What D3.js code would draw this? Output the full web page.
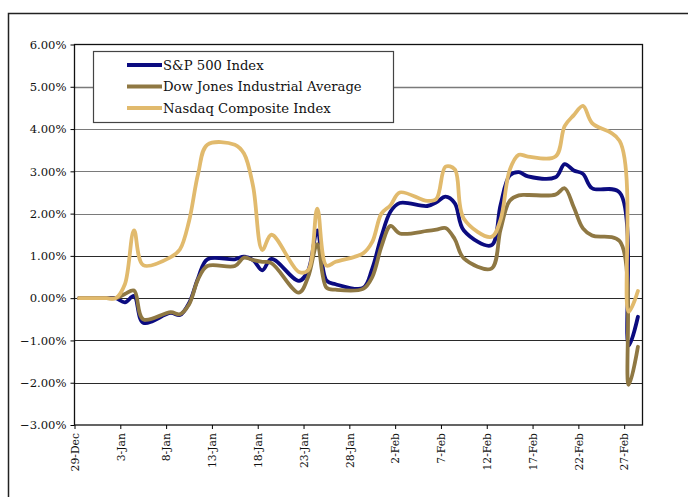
<!DOCTYPE html>
<html>
<head>
<meta charset="utf-8">
<script src="https://cdn.jsdelivr.net/npm/d3@7"></script>
<style>
  html, body { margin: 0; padding: 0; background: #fff; }
  svg { display: block; }
  .axis text { font-family: "DejaVu Serif", serif; fill: #111; }
</style>
</head>
<body>
<div id="chart"></div>
<script>
// trading days (weekdays, holidays carry the previous value)
var dates = ["2006-12-29","2007-01-01","2007-01-02","2007-01-03","2007-01-04","2007-01-05",
  "2007-01-08","2007-01-09","2007-01-10","2007-01-11","2007-01-12","2007-01-15","2007-01-16",
  "2007-01-17","2007-01-18","2007-01-19","2007-01-22","2007-01-23","2007-01-24","2007-01-25",
  "2007-01-26","2007-01-29","2007-01-30","2007-01-31","2007-02-01","2007-02-02","2007-02-05",
  "2007-02-06","2007-02-07","2007-02-08","2007-02-09","2007-02-12","2007-02-13","2007-02-14",
  "2007-02-15","2007-02-16","2007-02-19","2007-02-20","2007-02-21","2007-02-22","2007-02-23",
  "2007-02-26","2007-02-27","2007-02-28"];

var sp500 = [0, 0, 0, -0.1, 0.05, -0.58,
  -0.35, -0.4, -0.12, 0.48, 0.92, 0.92, 0.98,
  0.9, 0.66, 0.93, 0.41, 0.65, 1.6, 0.42,
  0.33, 0.24, 0.7, 1.46, 2.05, 2.25, 2.18,
  2.27, 2.4, 2.25, 1.6, 1.25, 2.2, 2.9,
  2.98, 2.88, 2.86, 3.17, 3.02, 2.94, 2.6,
  2.5, -1.12, -0.44];

var dow = [0, 0, 0, 0.1, 0.18, -0.5,
  -0.33, -0.38, -0.15, 0.45, 0.76, 0.76, 0.96,
  0.9, 0.86, 0.83, 0.13, 0.5, 1.28, 0.25,
  0.2, 0.22, 0.5, 1.22, 1.71, 1.53, 1.59,
  1.62, 1.66, 1.4, 0.94, 0.7, 1.62, 2.3,
  2.43, 2.44, 2.45, 2.6, 2.15, 1.65, 1.48,
  1.35, -2.05, -1.15];

var nasdaq = [0, 0, 0, 0.33, 1.6, 0.78,
  0.97, 1.15, 1.82, 2.95, 3.63, 3.63, 3.42,
  2.64, 1.14, 1.5, 0.62, 0.66, 2.12, 0.77,
  0.86, 1.06, 1.33, 2.0, 2.2, 2.5, 2.3,
  2.35, 3.11, 3.05, 1.88, 1.45, 1.85, 3.03,
  3.39, 3.35, 3.35, 4.07, 4.33, 4.55, 4.14,
  3.72, -0.32, 0.17];

var seriesNames = ["S&P 500 Index", "Dow Jones Industrial Average", "Nasdaq Composite Index"];
var seriesColors = ["#0b0b80", "#8f7843", "#e1ba6d"];
var yTicks = [-3, -2, -1, 0, 1, 2, 3, 4, 5, 6];
var xTickLabels = ["29-Dec","3-Jan","8-Jan","13-Jan","18-Jan","23-Jan","28-Jan",
  "2-Feb","7-Feb","12-Feb","17-Feb","22-Feb","27-Feb"];

var W = 688, H = 497;
var plotL = 74.5, plotR = 642.5, plotT = 44.5, plotB = 425;

var parse = d3.timeParse("%Y-%m-%d");
var days = dates.map(parse);
var start = parse("2006-12-29"), end = parse("2007-03-01");

var svg = d3.select("#chart").append("svg").attr("width", W).attr("height", H);

// outer frame
svg.append("rect").attr("x", 8.5).attr("y", 13.5).attr("width", 720).attr("height", 520)
  .attr("fill", "none").attr("stroke", "#222").attr("stroke-width", 1.5);

var x = d3.scaleTime().domain([start, end]).range([plotL, plotR]);
var y = d3.scaleLinear().domain([-3, 6]).range([plotB, plotT]);

// gridlines
svg.append("g").selectAll("line").data(yTicks.filter(function(d){ return d > -3 && d < 6; }))
  .enter().append("line")
  .attr("x1", plotL).attr("x2", plotR)
  .attr("y1", function(d){ return Math.round(y(d)) + 0.5; })
  .attr("y2", function(d){ return Math.round(y(d)) + 0.5; })
  .attr("stroke", function(d){ return d >= 2 ? "#7a7a7a" : "#2a2a2a"; })
  .attr("stroke-width", function(d){ return d == 5 ? 1.6 : 1; });

// plot border
svg.append("rect").attr("x", plotL).attr("y", plotT).attr("width", plotR - plotL).attr("height", plotB - plotT)
  .attr("fill", "none").attr("stroke", "#111").attr("stroke-width", 1.3);

// y axis
var yAxis = d3.axisLeft(y).tickValues(yTicks).tickSize(4).tickPadding(4)
  .tickFormat(function(d){ return d3.format(".2f")(d) + "%"; });
var gy = svg.append("g").attr("class", "axis").attr("transform", "translate(" + plotL + ",0)").call(yAxis);
gy.select(".domain").remove();
gy.selectAll("text").style("font-size", "11.6px");

// x axis
var tickDates = xTickLabels.map(function(t, i){ return d3.timeDay.offset(start, i * 5); });
var xAxis = d3.axisBottom(x).tickValues(tickDates).tickSize(4).tickPadding(4)
  .tickFormat(function(d, i){ return xTickLabels[i]; });
var gx = svg.append("g").attr("class", "axis").attr("transform", "translate(0," + plotB + ")").call(xAxis);
gx.select(".domain").remove();
gx.selectAll("text")
  .style("font-size", "10.8px")
  .style("text-anchor", "end")
  .attr("transform", "rotate(-90)")
  .attr("x", -8).attr("y", 0).attr("dy", "0.35em");

// lines
var line = d3.line()
  .x(function(d){ return x(d3.timeHour.offset(d.date, 12)); })
  .y(function(d){ return y(d.v); })
  .curve(d3.curveCatmullRom.alpha(0.5));

[sp500, dow, nasdaq].forEach(function(vals, k){
  var pts = vals.map(function(v, i){ return {date: days[i], v: v}; });
  svg.append("path").datum(pts)
    .attr("d", line)
    .attr("fill", "none")
    .attr("stroke", seriesColors[k])
    .attr("stroke-width", 3.8)
    .attr("stroke-linejoin", "round")
    .attr("stroke-linecap", "round");
});

// legend
var lg = svg.append("g");
lg.append("rect").attr("x", 93.5).attr("y", 51.5).attr("width", 300).attr("height", 71)
  .attr("fill", "#fff").attr("stroke", "#444").attr("stroke-width", 1.2);
seriesNames.forEach(function(n, k){
  var yy = 65 + k * 21.5;
  lg.append("line").attr("x1", 127).attr("x2", 162).attr("y1", yy).attr("y2", yy)
    .attr("stroke", seriesColors[k]).attr("stroke-width", 3.8);
  lg.append("text").attr("x", 163).attr("y", yy).attr("dy", "0.35em")
    .style("font-family", "'DejaVu Serif', serif").style("font-size", "13.2px")
    .style("fill", "#111").text(n);
});
</script>
</body>
</html>
